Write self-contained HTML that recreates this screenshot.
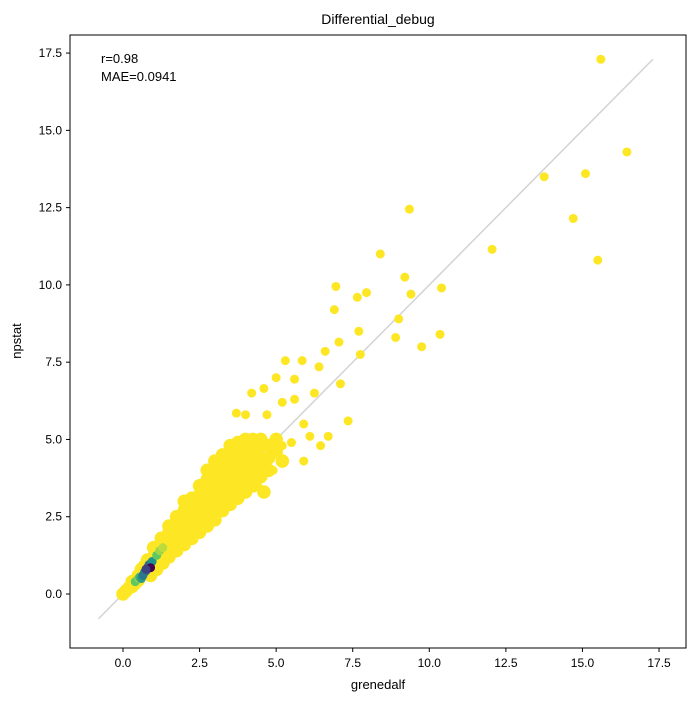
<!DOCTYPE html>
<html><head><meta charset="utf-8"><style>
body{margin:0;background:#fff;}
svg text{font-family:"Liberation Sans","DejaVu Sans",sans-serif;fill:#000;}
</style></head><body>
<svg id="chart" width="696" height="701" xmlns="http://www.w3.org/2000/svg">
<rect x="0" y="0" width="696" height="701" fill="#fff"/>
<text x="378" y="24" font-size="14" text-anchor="middle">Differential_debug</text>
<g id="marks"></g>
<rect x="70" y="35" width="616" height="613" fill="none" stroke="#000" stroke-width="1"/>
<g id="axes"></g>
<text x="101" y="63" font-size="13">r=0.98</text>
<text x="101" y="81" font-size="13">MAE=0.0941</text>
<text x="378" y="689" font-size="13" text-anchor="middle">grenedalf</text>
<text transform="translate(21,341) rotate(-90)" font-size="13" text-anchor="middle">npstat</text>
</svg>
<script>
const tickValues=[0,2.5,5,7.5,10,12.5,15,17.5];
const tickLabels=["0.0","2.5","5.0","7.5","10.0","12.5","15.0","17.5"];
const outlierX=[15.6,16.45,13.75,15.1,14.7,15.5,12.05,9.35,8.4,9.2,10.4,9.4,7.95,7.65,6.95,6.9,7.7,9.0,8.9,10.35,9.75,7.05,6.6,5.3,5.85,6.4,5.6,6.25,7.1,7.75,5.0,4.6,4.2,7.35,6.45,6.1,5.6,5.2,4.0,3.7,4.7,5.9,6.7,5.5,5.9,4.9,5.2,4.4];
const outlierY=[17.3,14.3,13.5,13.6,12.15,10.8,11.15,12.45,11.0,10.25,9.9,9.7,9.75,9.6,9.95,9.2,8.5,8.9,8.3,8.4,8.0,8.15,7.85,7.55,7.55,7.35,6.95,6.5,6.8,7.75,7.0,6.65,6.5,5.6,4.8,5.1,6.3,6.2,5.8,5.85,5.8,5.5,5.1,4.9,4.3,4.0,4.8,3.5];
const cloudX=[0,0.1,0.2,0.3,0.3,0.4,0.5,0.5,0.7,0.8,0.6,0.9,1.1,1.3,
1,1,1,1,1.25,1.25,1.25,1.25,1.5,1.5,1.5,1.5,1.5,1.75,1.75,1.75,1.75,1.75,
2,2,2,2,2,2,2.25,2.25,2.25,2.25,2.25,2.25,2.5,2.5,2.5,2.5,2.5,2.5,
2.75,2.75,2.75,2.75,2.75,2.75,2.75,3,3,3,3,3,3,3,3.25,3.25,3.25,3.25,3.25,3.25,3.25,
3.5,3.5,3.5,3.5,3.5,3.5,3.5,3.75,3.75,3.75,3.75,3.75,3.75,3.75,4,4,4,4,4,4,4,
4.25,4.25,4.25,4.25,4.25,4.25,4.5,4.5,4.5,4.5,4.5,4.75,4.75,4.75,5,5,5.2,4.6];
const cloudY=[0,0.1,0.2,0.25,0.4,0.35,0.45,0.6,0.9,1.1,0.8,0.6,0.8,1.0,
0.8,1.0,1.2,1.5,1.0,1.2,1.5,1.8,1.2,1.4,1.7,2.0,2.2,1.4,1.6,1.9,2.2,2.5,
1.6,1.8,2.1,2.4,2.7,3.0,1.8,2.0,2.3,2.6,2.9,3.1,2.0,2.3,2.6,2.9,3.2,3.5,
2.2,2.5,2.8,3.1,3.4,3.7,4.0,2.4,2.7,3.0,3.3,3.6,3.9,4.3,2.7,3.0,3.3,3.6,3.9,4.2,4.5,
2.9,3.2,3.5,3.8,4.1,4.4,4.8,3.1,3.4,3.7,4.0,4.3,4.6,4.9,3.3,3.6,3.9,4.2,4.5,4.8,5.0,
3.5,3.8,4.1,4.4,4.7,5.0,3.8,4.1,4.4,4.8,5.0,4.0,4.4,4.8,4.6,5.0,4.3,3.3];
const denseX=[0.4,0.5,0.55,0.6,0.7,0.75,0.8,0.65,0.85,0.95,1.1,1.2,1.3,0.9,0.75];
const denseY=[0.4,0.5,0.55,0.5,0.7,0.75,0.85,0.6,0.95,1.05,1.25,1.4,1.5,0.85,0.8];
const denseLevel=[0.75,0.8,0.65,0.55,0.45,0.3,0.15,0.4,0.35,0.5,0.75,0.85,0.9,0.0,0.2];
const diagRange=[-0.8,17.3];

const NS="http://www.w3.org/2000/svg";
function xs(v){return 123+v*30.63;}
function ys(v){return 594-v*30.91;}
function viridis(t){
 const c=[[68,1,84],[59,82,139],[33,145,140],[94,201,98],[253,231,37]];
 const p=t*(c.length-1),i=Math.min(Math.floor(p),c.length-2),f=p-i;
 return `rgb(${c[i].map((a,k)=>Math.round(a+(c[i+1][k]-a)*f)).join(',')})`;
}
const marks=document.getElementById('marks');
const axes=document.getElementById('axes');
const line=document.createElementNS(NS,'line');


line.setAttribute('x1',xs(diagRange[0]));line.setAttribute('y1',ys(diagRange[0]));
line.setAttribute('x2',xs(diagRange[1]));line.setAttribute('y2',ys(diagRange[1]));
line.setAttribute('stroke','#d3d3d3');line.setAttribute('stroke-width','1.5');
marks.appendChild(line);
function dot(x,y,col,r){
 const c=document.createElementNS(NS,'circle');
 
 
 c.setAttribute('cx',xs(x));c.setAttribute('cy',ys(y));c.setAttribute('r',r);
 c.setAttribute('fill',col);
 marks.appendChild(c);
}
for(let i=0;i<cloudX.length;i++)dot(cloudX[i],cloudY[i],'#fde725',6.8);
for(let i=0;i<outlierX.length;i++)dot(outlierX[i],outlierY[i],'#fde725',4.5);
for(let i=0;i<denseX.length;i++)dot(denseX[i],denseY[i],viridis(denseLevel[i]),4.5);
for(let i=0;i<tickValues.length;i++){
 const v=tickValues[i];
 const tx=document.createElementNS(NS,'line');
 
 
 tx.setAttribute('x1',xs(v));tx.setAttribute('x2',xs(v));tx.setAttribute('y1',648);tx.setAttribute('y2',652);tx.setAttribute('stroke','#000');
 axes.appendChild(tx);
 const lx=document.createElementNS(NS,'text');
 
 
 lx.setAttribute('x',xs(v));lx.setAttribute('y',667);lx.setAttribute('font-size','12');lx.setAttribute('text-anchor','middle');
 lx.textContent=tickLabels[i];axes.appendChild(lx);
 const ty=document.createElementNS(NS,'line');
 
 
 ty.setAttribute('x1',66);ty.setAttribute('x2',70);ty.setAttribute('y1',ys(v));ty.setAttribute('y2',ys(v));ty.setAttribute('stroke','#000');
 axes.appendChild(ty);
 const ly=document.createElementNS(NS,'text');
 
 
 ly.setAttribute('x',62);ly.setAttribute('y',ys(v)+4);ly.setAttribute('font-size','12');ly.setAttribute('text-anchor','end');
 ly.textContent=tickLabels[i];axes.appendChild(ly);
}
</script>
</body></html>
